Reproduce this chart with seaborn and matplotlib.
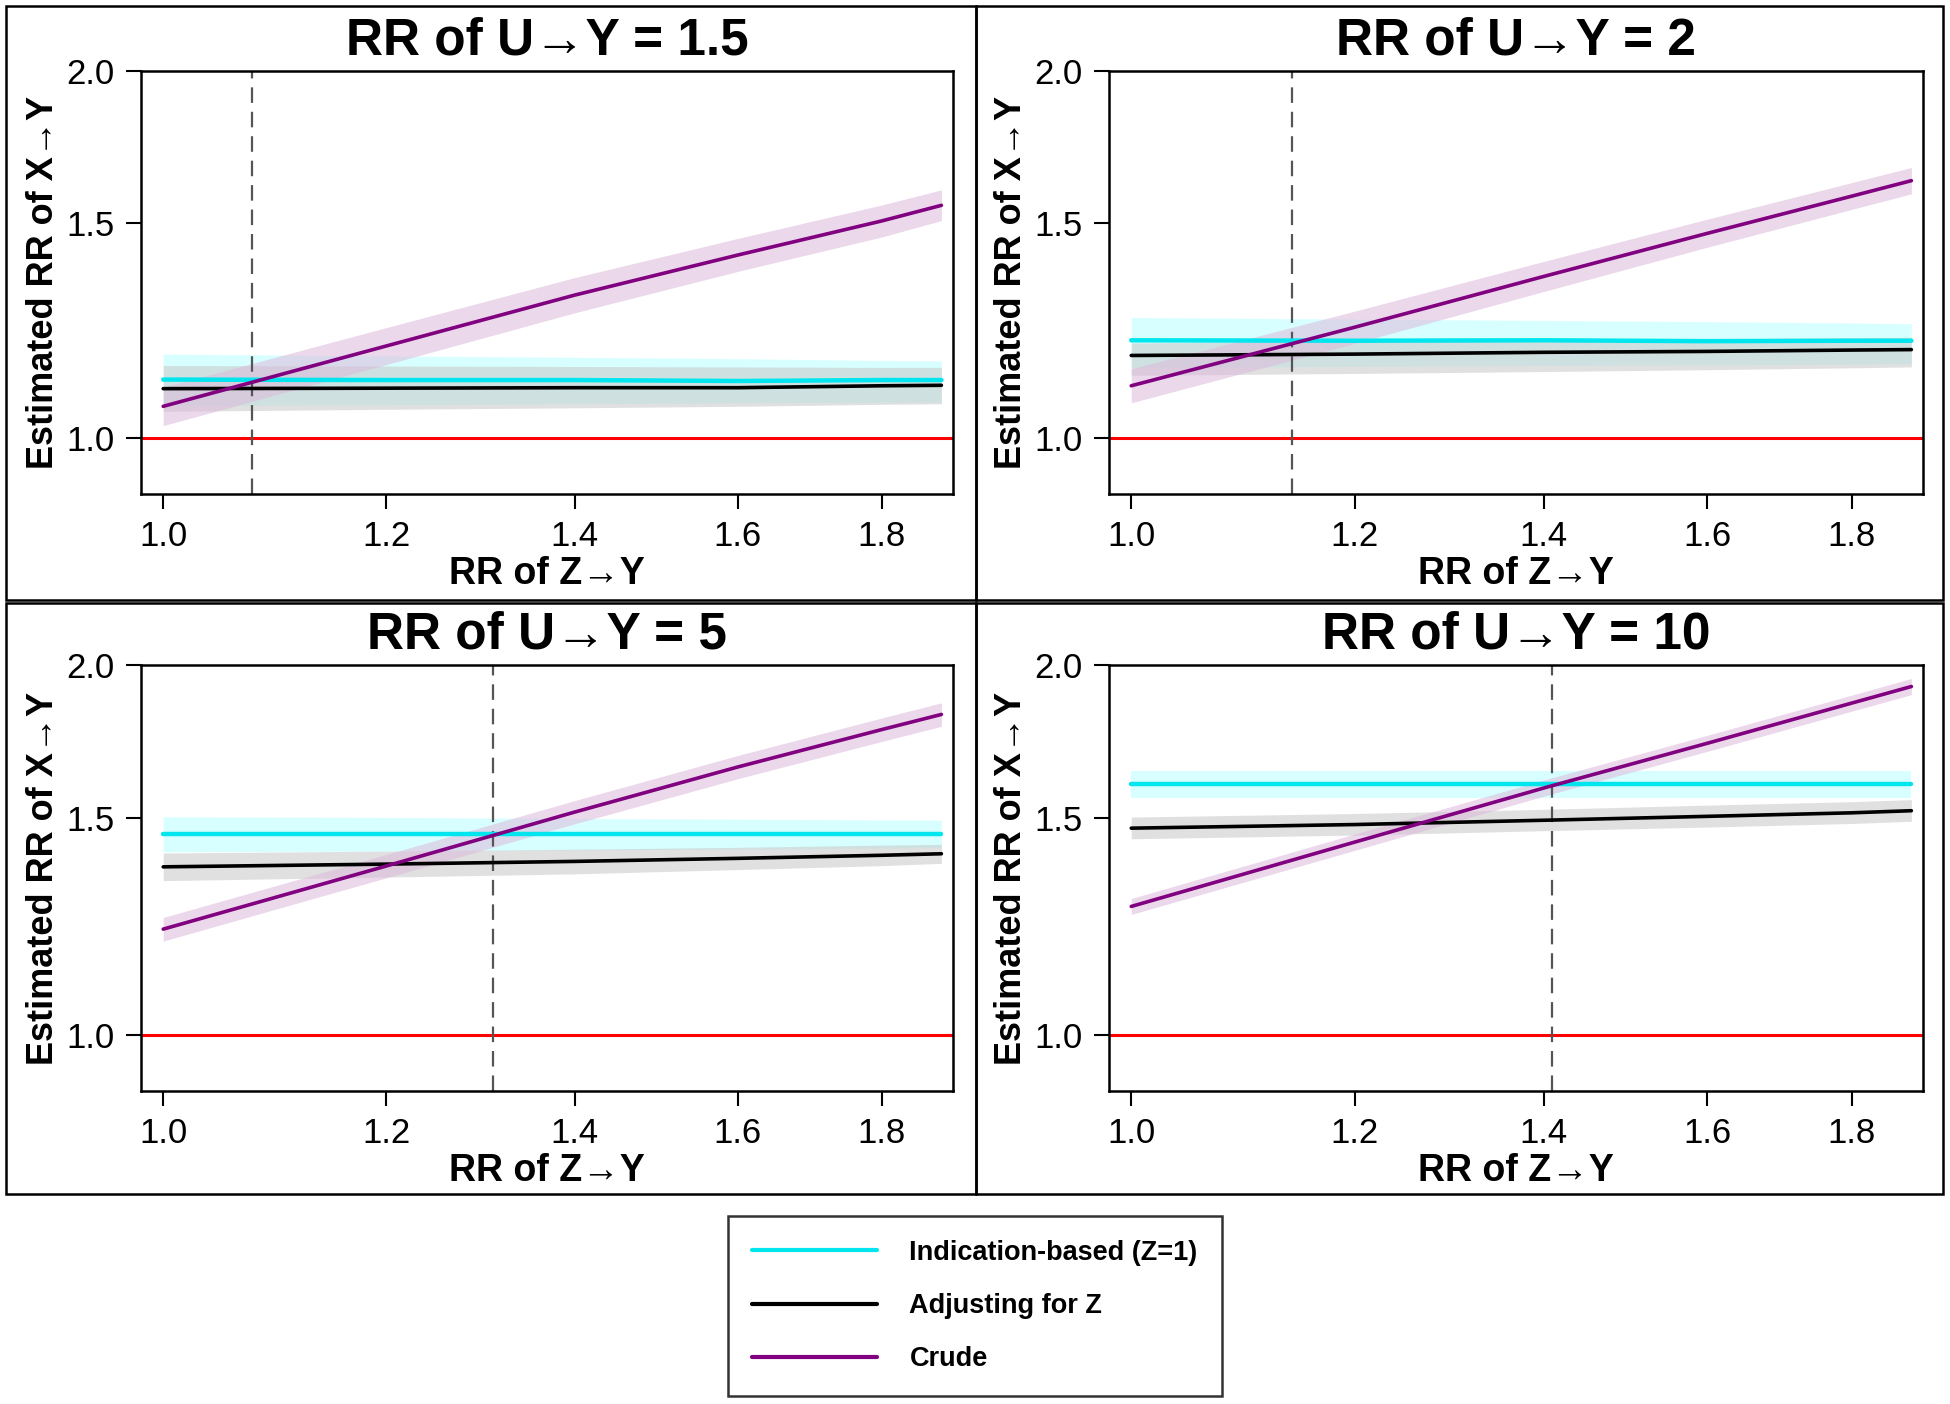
import numpy as np
import pandas as pd
import matplotlib
matplotlib.use("Agg")
import matplotlib.pyplot as plt
import seaborn as sns
from matplotlib.patches import Rectangle

# Values
rr_zy = [1.0, 1.2, 1.4, 1.6, 1.8, 1.89]
panel_titles = ["RR of U\u2192Y = 1.5", "RR of U\u2192Y = 2", "RR of U\u2192Y = 5", "RR of U\u2192Y = 10"]
cross_points = [1.075, 1.14, 1.31, 1.41]

crude_est = [[1.062, 1.190, 1.310, 1.413, 1.507, 1.552],
             [1.104, 1.233, 1.357, 1.472, 1.579, 1.626],
             [1.219, 1.372, 1.518, 1.652, 1.772, 1.823],
             [1.272, 1.435, 1.588, 1.727, 1.862, 1.921]]
crude_lo = [[1.024, 1.149, 1.267, 1.370, 1.462, 1.508],
            [1.069, 1.196, 1.319, 1.434, 1.540, 1.586],
            [1.192, 1.342, 1.485, 1.616, 1.733, 1.783],
            [1.253, 1.413, 1.564, 1.701, 1.834, 1.892]]
crude_hi = [[1.101, 1.232, 1.354, 1.458, 1.553, 1.598],
            [1.140, 1.271, 1.396, 1.512, 1.620, 1.667],
            [1.246, 1.402, 1.551, 1.688, 1.811, 1.863],
            [1.291, 1.457, 1.612, 1.753, 1.890, 1.950]]

ind_est = [[1.117, 1.116, 1.116, 1.114, 1.116, 1.116],
           [1.203, 1.202, 1.203, 1.201, 1.202, 1.202],
           [1.458, 1.458, 1.458, 1.458, 1.458, 1.458],
           [1.599, 1.599, 1.599, 1.599, 1.599, 1.599]]
ind_lo = [[1.063, 1.065, 1.067, 1.069, 1.070, 1.071],
          [1.143, 1.145, 1.147, 1.148, 1.150, 1.151],
          [1.409, 1.411, 1.414, 1.416, 1.419, 1.420],
          [1.559, 1.559, 1.559, 1.559, 1.559, 1.559]]
ind_hi = [[1.172, 1.168, 1.165, 1.162, 1.158, 1.157],
          [1.256, 1.252, 1.249, 1.246, 1.243, 1.241],
          [1.505, 1.503, 1.500, 1.498, 1.496, 1.495],
          [1.639, 1.639, 1.639, 1.639, 1.639, 1.639]]

adj_est = [[1.098, 1.099, 1.100, 1.100, 1.104, 1.105],
           [1.169, 1.172, 1.176, 1.178, 1.181, 1.182],
           [1.370, 1.377, 1.384, 1.392, 1.400, 1.404],
           [1.473, 1.483, 1.495, 1.506, 1.516, 1.522]]
adj_lo = [[1.052, 1.056, 1.059, 1.062, 1.066, 1.067],
          [1.126, 1.130, 1.134, 1.138, 1.142, 1.144],
          [1.335, 1.344, 1.352, 1.363, 1.373, 1.379],
          [1.444, 1.454, 1.466, 1.476, 1.486, 1.492]]
adj_hi = [[1.147, 1.146, 1.145, 1.144, 1.143, 1.143],
          [1.197, 1.200, 1.203, 1.206, 1.209, 1.210],
          [1.406, 1.411, 1.416, 1.421, 1.427, 1.429],
          [1.504, 1.514, 1.526, 1.538, 1.548, 1.554]]

series_names = ["Indication-based (Z=1)", "Adjusting for Z", "Crude"]
line_colors = ["#00e5ee", "#000000", "#800080"]
band_colors = ["#b8ffff", "#c8c8c8", "#dcb8dc"]

x_ticks = [1.0, 1.2, 1.4, 1.6, 1.8]
y_ticks = [1.0, 1.5, 2.0]

sns.set_theme(style="ticks")
narrow = ["Liberation Sans Narrow", "Liberation Sans", "DejaVu Sans"]
plt.rcParams["font.family"] = ["Liberation Sans", "DejaVu Sans"]
plt.rcParams["text.color"] = "black"
plt.rcParams["axes.labelcolor"] = "black"
plt.rcParams["xtick.color"] = "black"
plt.rcParams["ytick.color"] = "black"

W, H = 1950, 1404
fig = plt.figure(figsize=(W / 100, H / 100), dpi=100)

# axes boxes in pixels: (left, right, top, bottom)
boxes = [(141, 953, 71, 494), (1109, 1923, 71, 494),
         (141, 953, 665, 1091), (1109, 1923, 665, 1091)]
frames = [(6, 976, 6, 600), (976, 1943, 6, 600),
          (6, 976, 603, 1194), (976, 1943, 603, 1194)]

for i in range(4):
    l, r, t, b = boxes[i]
    ax = fig.add_axes([l / W, 1 - b / H, (r - l) / W, (b - t) / H])
    ax.set_xscale("log")
    ax.set_yscale("log")

    ests = [ind_est[i], adj_est[i], crude_est[i]]
    los = [ind_lo[i], adj_lo[i], crude_lo[i]]
    his = [ind_hi[i], adj_hi[i], crude_hi[i]]
    alphas = [0.55, 0.55, 0.55]
    for k in range(3):
        ax.fill_between(rr_zy, los[k], his[k], color=band_colors[k],
                        alpha=alphas[k], lw=0, zorder=1)
    ax.axhline(1.0, color="#ff0000", lw=2.2, zorder=2)
    ax.axvline(cross_points[i], color="#555555", lw=1.6, ls=(0, (7, 4)), zorder=2)
    widths = [3.2, 2.6, 2.6]
    for k in range(3):
        df = pd.DataFrame({"x": rr_zy, "y": ests[k]})
        sns.lineplot(data=df, x="x", y="y", color=line_colors[k], lw=widths[k],
                     ax=ax, label=series_names[k], legend=False, zorder=3)

    ax.set_xlim(0.982, 1.908)
    ax.set_ylim(0.90, 2.0)
    ax.xaxis.set_major_locator(matplotlib.ticker.FixedLocator(x_ticks))
    ax.yaxis.set_major_locator(matplotlib.ticker.FixedLocator(y_ticks))
    ax.xaxis.set_minor_locator(matplotlib.ticker.NullLocator())
    ax.yaxis.set_minor_locator(matplotlib.ticker.NullLocator())
    ax.set_xticklabels([f"{v:.1f}" for v in x_ticks], family=narrow, fontsize=25)
    ax.set_yticklabels([f"{v:.1f}" for v in y_ticks], family=narrow, fontsize=25)
    ax.tick_params(length=11, width=1.5, color="black", direction="out", pad=8)
    for s in ax.spines.values():
        s.set_visible(True)
        s.set_color("black")
        s.set_linewidth(1.8)
    ax.set_facecolor("white")

    ax.set_title(panel_titles[i], family=narrow, fontsize=37, fontweight="bold", pad=12)
    ax.set_xlabel("RR of Z\u2192Y", family=narrow, fontsize=27, fontweight="bold", labelpad=2)
    ax.set_ylabel("Estimated RR of X\u2192Y", fontsize=26, fontweight="bold", labelpad=4)

    fl, fr, ft, fb = frames[i]
    fig.add_artist(Rectangle((fl / W, 1 - fb / H), (fr - fl) / W, (fb - ft) / H,
                             transform=fig.transFigure, fill=False,
                             edgecolor="black", lw=1.8))

handles = [plt.Line2D([], [], color=c, lw=3) for c in line_colors]
leg = fig.legend(handles, series_names, loc="center",
                 bbox_to_anchor=(975 / W, 1 - 1306 / H), frameon=True,
                 fancybox=False, edgecolor="black",
                 handlelength=4.6, handletextpad=1.2, labelspacing=1.0,
                 borderpad=0.9, prop={"weight": "bold", "size": 19.5})
leg.get_frame().set_linewidth(1.8)

fig.savefig("out.png", dpi=100, facecolor="white")
